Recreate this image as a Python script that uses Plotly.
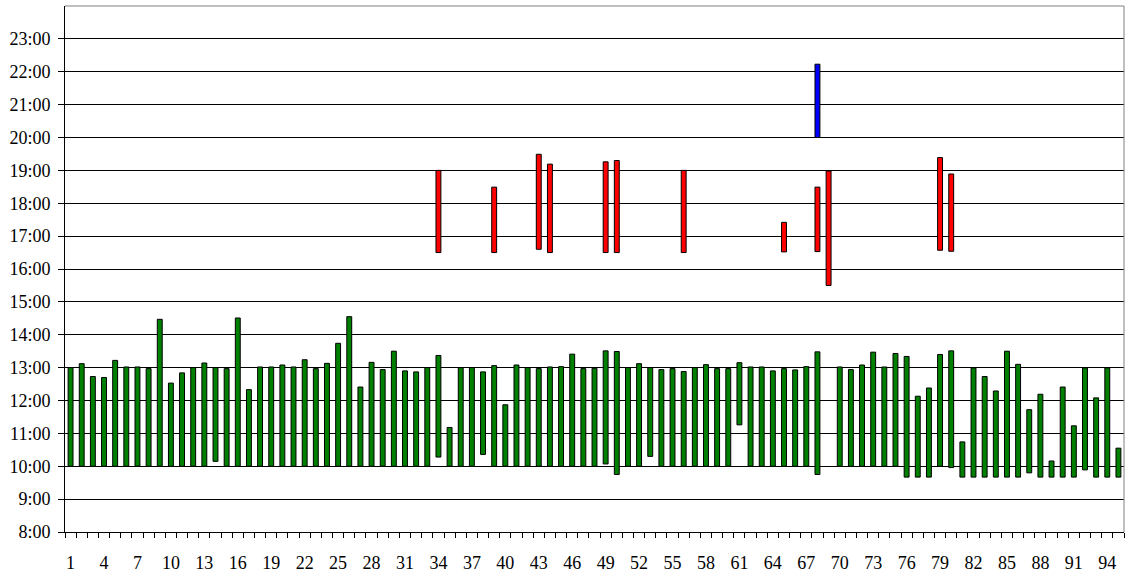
import plotly.graph_objects as go

categories = list(range(1, 96))

green_start = [10, 10, 10, 10, 10, 10, 10, 10, 10, 10,
               10, 10, 10, 10.15, 10, 10, 10, 10, 10, 10,
               10, 10, 10, 10, 10, 10, 10, 10, 10, 10,
               10, 10, 10, 10.28, 10, 10, 10, 10.36, 10, 10,
               10, 10, 10, 10, 10, 10, 10, 10, 10.07, 9.75,
               10, 10, 10.3, 10, 10, 10, 10, 10, 10, 10,
               11.26, 10, 10, 10, 10, 10, 10, 9.75, None, 10,
               10, 10, 10, 10, 10, 9.67, 9.67, 9.67, 10.0, 9.96,
               9.67, 9.67, 9.67, 9.67, 9.67, 9.67, 9.8, 9.67, 9.67, 9.67,
               9.67, 9.89, 9.67, 9.67, 9.67]
green_end = [13.0, 13.12, 12.73, 12.70, 13.22, 13.02, 13.02, 12.97, 14.47, 12.53,
             12.84, 13.0, 13.14, 13.0, 12.97, 14.51, 12.33, 13.02, 13.02, 13.08,
             13.02, 13.24, 12.97, 13.13, 13.74, 14.55, 12.41, 13.16, 12.94, 13.5,
             12.9, 12.87, 13.0, 13.37, 11.18, 13.0, 13.0, 12.87, 13.06, 11.87,
             13.08, 13.0, 12.97, 13.02, 13.03, 13.41, 12.97, 12.98, 13.51, 13.49,
             13.0, 13.12, 13.0, 12.94, 12.97, 12.88, 13.0, 13.09, 12.97, 12.97,
             13.15, 13.02, 13.02, 12.9, 12.97, 12.93, 13.03, 13.48, None, 13.02,
             12.94, 13.08, 13.47, 13.02, 13.43, 13.34, 12.13, 12.38, 13.4, 13.51,
             10.74, 12.99, 12.73, 12.29, 13.5, 13.1, 11.72, 12.19, 10.16, 12.41,
             11.23, 12.99, 12.08, 12.99, 10.55]

red_cats = [34, 39, 43, 44, 49, 50, 56, 65, 68, 69, 79, 80]
red_start = [16.5, 16.5, 16.6, 16.5, 16.5, 16.5, 16.5, 16.52, 16.53, 15.5, 16.57, 16.54]
red_end = [19.0, 18.49, 19.49, 19.19, 19.26, 19.3, 19.0, 17.42, 18.49, 18.98, 19.39, 18.89]

blue_cats = [68]
blue_start = [20.0]
blue_end = [22.23]

y_tick_vals = list(range(8, 24))
y_tick_text = [f"{h}:00" for h in y_tick_vals]
x_tick_vals = list(range(1, 96, 3))
x_tick_text = [str(v) for v in x_tick_vals]


def spans(starts, ends):
    return [None if (s is None or e is None) else e - s for s, e in zip(starts, ends)]


BAR_W = 0.44
fig = go.Figure()
fig.add_trace(go.Bar(x=categories, y=spans(green_start, green_end), base=green_start,
                     width=BAR_W, marker=dict(color="#008000", line=dict(color="black", width=1))))
fig.add_trace(go.Bar(x=red_cats, y=spans(red_start, red_end), base=red_start,
                     width=BAR_W, marker=dict(color="#FF0000", line=dict(color="black", width=1))))
fig.add_trace(go.Bar(x=blue_cats, y=spans(blue_start, blue_end), base=blue_start,
                     width=BAR_W, marker=dict(color="#0000FF", line=dict(color="black", width=1))))

FONT = "Liberation Serif, Times New Roman, serif"
fig.update_layout(
    width=1128, height=575,
    margin=dict(l=65, r=4, t=6, b=43),
    barmode="overlay",
    showlegend=False,
    plot_bgcolor="white", paper_bgcolor="white",
    font=dict(family=FONT, size=18, color="black"),
    xaxis=dict(range=[0.5, 95.5], tickmode="array", tickvals=x_tick_vals, ticktext=x_tick_text,
               ticks="", ticklen=0, showgrid=False, zeroline=False, automargin=False,
               showline=True, linecolor="black", linewidth=1, ticklabelstandoff=14,
               minor=dict(tickmode="linear", tick0=0.5, dtick=1, ticks="outside", ticklen=5,
                          tickcolor="black", showgrid=False),
               tickfont=dict(family=FONT, size=18, color="black")),
    yaxis=dict(range=[8, 24], tickmode="array", tickvals=y_tick_vals, ticktext=y_tick_text,
               ticks="outside", ticklen=6, tickcolor="black", automargin=False,
               showgrid=True, gridcolor="black", gridwidth=1, zeroline=False,
               showline=True, linecolor="black", linewidth=1, ticklabelstandoff=4,
               tickfont=dict(family=FONT, size=18, color="black")),
)
fig.add_shape(type="line", xref="paper", yref="paper", x0=0, x1=1, y0=1, y1=1,
              line=dict(color="#808080", width=1))
fig.add_shape(type="line", xref="paper", yref="paper", x0=1, x1=1, y0=0, y1=1,
              line=dict(color="#808080", width=1))

fig.write_html("out.html", config={"displayModeBar": False},
               post_script="document.body.style.margin='0';document.body.style.overflow='hidden';")
